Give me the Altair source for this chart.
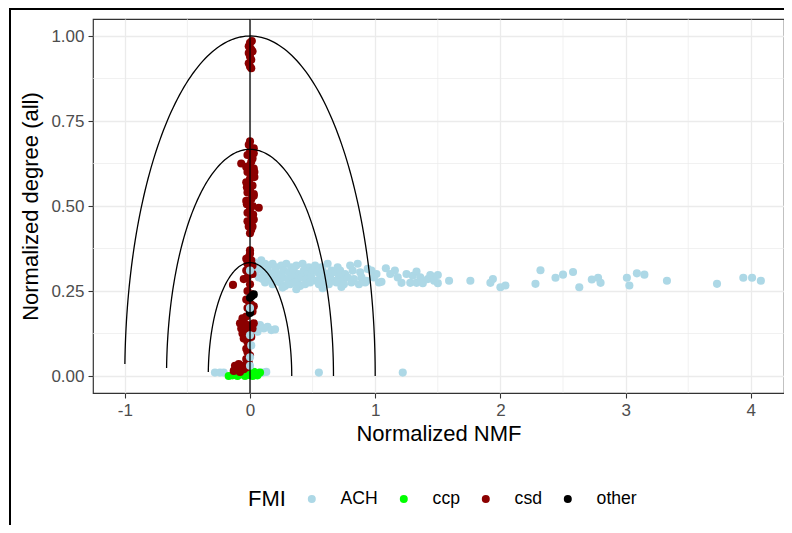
import numpy as np
import pandas as pd
import altair as alt

# ---------------- data ----------------
categories = ["ACH", "ccp", "csd", "other"]
colors = ["#ADD8E6", "#00FF00", "#8B0000", "#000000"]

ach_x = [0.03, 0.06, 0.09, 0.12, 0.15, 0.18, 0.21, 0.25, 0.29, 0.33, 0.37, 0.42, 0.47, 0.52, 0.57, 0.62, 0.70, 0.80, 0.86, 0.94,
         0.05, 0.08, 0.11, 0.14, 0.17, 0.20, 0.23, 0.27, 0.31, 0.35, 0.39, 0.43, 0.46, 0.50, 0.54, 0.58, 0.61, 0.65, 0.68, 0.72, 0.76, 0.82, 0.88, 0.97, 1.01,
         0.07, 0.10, 0.13, 0.16, 0.19, 0.22, 0.26, 0.30, 0.34, 0.38, 0.41, 0.45, 0.49, 0.53, 0.56, 0.60, 0.64, 0.67, 0.71, 0.74, 0.78, 0.83, 0.89, 0.93, 0.99,
         0.12, 0.18, 0.24, 0.28, 0.32, 0.36, 0.40, 0.44, 0.48, 0.55, 0.59, 0.63, 0.69, 0.75, 0.81, 0.87, 0.92, 1.03,
         0.37, 0.58, 0.73, 0.26,
         1.05, 1.085, 1.12, 1.157, 1.18, 1.21, 1.25, 1.28, 1.30, 1.33, 1.33, 1.36, 1.38, 1.42, 1.44, 1.50, 1.50, 1.47,
         1.59, 1.76, 1.92, 1.94, 2.00, 2.04, 2.28, 2.32, 2.44, 2.50, 2.58, 2.63, 2.73, 2.78, 2.80, 3.01, 3.03, 3.09, 3.15, 3.33, 3.73, 3.94, 4.01, 4.08,
         0.08, 0.11, 0.14, 0.17, 0.20, 0.06,
         -0.28, -0.24, -0.21, -0.03, 0.07, 0.10, 0.13, 0.55, 1.22]
ach_y = [0.335, 0.33, 0.34, 0.33, 0.325, 0.33, 0.32, 0.325, 0.33, 0.32, 0.325, 0.33, 0.32, 0.325, 0.32, 0.33, 0.32, 0.325, 0.33, 0.315,
         0.31, 0.315, 0.305, 0.31, 0.30, 0.31, 0.30, 0.31, 0.305, 0.31, 0.30, 0.31, 0.30, 0.31, 0.305, 0.31, 0.30, 0.31, 0.305, 0.31, 0.30, 0.31, 0.305, 0.31, 0.30,
         0.29, 0.285, 0.295, 0.285, 0.29, 0.28, 0.29, 0.285, 0.29, 0.28, 0.29, 0.285, 0.29, 0.28, 0.29, 0.285, 0.29, 0.28, 0.29, 0.28, 0.29, 0.285, 0.29, 0.28, 0.29,
         0.275, 0.27, 0.275, 0.265, 0.27, 0.275, 0.265, 0.27, 0.275, 0.27, 0.265, 0.27, 0.275, 0.27, 0.275, 0.27, 0.275, 0.275,
         0.255, 0.258, 0.262, 0.26,
         0.277, 0.317, 0.30, 0.31, 0.29, 0.274, 0.30, 0.274, 0.295, 0.307, 0.274, 0.29, 0.273, 0.285, 0.297, 0.297, 0.273, 0.28,
         0.28, 0.28, 0.274, 0.285, 0.261, 0.266, 0.271, 0.311, 0.289, 0.298, 0.306, 0.261, 0.284, 0.289, 0.274, 0.289, 0.266, 0.302, 0.298, 0.28, 0.271, 0.289, 0.289, 0.28,
         0.15, 0.14, 0.145, 0.135, 0.137, 0.13,
         0.01, 0.01, 0.01, 0.012, 0.01, 0.01, 0.012, 0.01, 0.01]

ccp_x = [-0.17, -0.14, -0.10, -0.07, -0.04, -0.01, 0.02, 0.05, 0.08, 0.03, -0.12, 0.00, 0.06]
ccp_y = [0.0, 0.002, 0.0, 0.005, 0.0, 0.003, 0.0, 0.008, 0.01, 0.012, 0.008, 0.01, 0.002]

csd_x = [0.0, -0.01, 0.01, 0.02, -0.01, 0.0, 0.01, -0.01, 0.0, 0.01, 0.0, 0.015,
         0.0, -0.01, 0.01, 0.0, -0.02, 0.02, 0.01, -0.07, 0.0, 0.03, -0.02, 0.01, 0.0, -0.03, 0.02, 0.0, -0.02, 0.03, 0.01, -0.01,
         0.02, 0.07, 0.0, -0.02, 0.01, 0.03, 0.0, -0.01, 0.01, 0.0,
         0.03, -0.03, 0.035, -0.025, 0.03, -0.03, 0.025, -0.02, 0.035, -0.025, 0.02, 0.03,
         0.0, 0.0, -0.01, 0.01, -0.02, 0.0, -0.03, 0.02, -0.02, -0.05, -0.136, 0.0, -0.02, 0.02, -0.01, 0.01, -0.02, 0.02,
         -0.03, 0.02, -0.03, 0.03,
         -0.03, -0.06, -0.05, -0.08, -0.02, 0.03, -0.07, -0.04, 0.02, -0.06, -0.03, 0.01, -0.05, -0.02, 0.0, -0.03, -0.02,
         0.0, -0.03, -0.01, -0.12, -0.09, -0.06, -0.10, -0.05, -0.13, -0.03, -0.08]
csd_y = [0.98, 0.97, 0.96, 0.955, 0.95, 0.94, 0.93, 0.92, 0.91, 0.905, 0.965, 0.985,
         0.69, 0.68, 0.67, 0.66, 0.65, 0.64, 0.63, 0.625, 0.62, 0.61, 0.60, 0.59, 0.58, 0.57, 0.56, 0.55, 0.54, 0.53, 0.52, 0.51,
         0.50, 0.495, 0.49, 0.48, 0.47, 0.46, 0.45, 0.44, 0.43, 0.42,
         0.655, 0.615, 0.585, 0.555, 0.535, 0.515, 0.475, 0.455, 0.60, 0.505, 0.44, 0.67,
         0.37, 0.36, 0.35, 0.34, 0.33, 0.32, 0.31, 0.30, 0.29, 0.285, 0.268, 0.27, 0.25, 0.24, 0.22, 0.21, 0.20, 0.19,
         0.345, 0.325, 0.225, 0.205,
         0.175, 0.17, 0.16, 0.155, 0.15, 0.155, 0.14, 0.135, 0.14, 0.125, 0.12, 0.115, 0.11, 0.10, 0.09, 0.08, 0.07,
         0.06, 0.05, 0.04, 0.03, 0.035, 0.03, 0.02, 0.02, 0.015, 0.025, 0.012]

other_x = [0.03, 0.0, 0.0, 0.015, 0.0]
other_y = [0.24, 0.23, 0.185, 0.235, 0.19]

# ACH points lying on the x = 0 column (drawn above the others)
achc_x = [0.0, 0.0, 0.01, 0.0, 0.0, 0.0]
achc_y = [0.12, 0.055, 0.09, 0.03, 0.20, 0.31]

radii = [1.0, 2 / 3, 1 / 3]
x_ticks = [-1, 0, 1, 2, 3, 4]
y_ticks = [0.0, 0.25, 0.5, 0.75, 1.0]
x_minor = [-0.5, 0.5, 1.5, 2.5, 3.5]
y_minor = [0.125, 0.375, 0.625, 0.875]

# ---------------- tables ----------------
rows = []
for name, xs, ys in [("ACH", ach_x, ach_y), ("ccp", ccp_x, ccp_y), ("csd", csd_x, csd_y),
                     ("other", other_x, other_y), ("ACH", achc_x, achc_y)]:
    for a, b in zip(xs, ys):
        rows.append({"nmf": a, "deg": b, "FMI": name})
pts = pd.DataFrame(rows)
pts["ord"] = range(len(pts))

theta = np.linspace(0, np.pi - 0.035, 150)
arc_rows = []
for k, r in enumerate(radii):
    for i, t in enumerate(theta):
        arc_rows.append({"nmf": r * np.cos(t), "deg": r * np.sin(t), "ring": k, "i": i})
arcs = pd.DataFrame(arc_rows)

xm = pd.DataFrame({"nmf": x_minor})
ym = pd.DataFrame({"deg": y_minor})
vl = pd.DataFrame({"nmf": [0]})
one = pd.DataFrame({"a": [0]})

X = alt.X("nmf:Q", title="Normalized NMF",
          scale=alt.Scale(domain=[-1.254, 4.265], nice=False, zero=False),
          axis=alt.Axis(values=x_ticks, labelExpr="replace(datum.label, '−', '-')",
                        titleFontSize=22, titleFontWeight="normal", titlePadding=5))
Y = alt.Y("deg:Q", title="Normalized degree (all)",
          scale=alt.Scale(domain=[-0.05, 1.05], nice=False, zero=False),
          axis=alt.Axis(values=y_ticks, format=".2f",
                        titleFontSize=22, titleFontWeight="normal", titlePadding=8))

minor_x = alt.Chart(xm).mark_rule(color="#EBEBEB", strokeWidth=0.7).encode(x=X)
minor_y = alt.Chart(ym).mark_rule(color="#EBEBEB", strokeWidth=0.7).encode(y=Y)

points = alt.Chart(pts).mark_circle(size=66, opacity=1).encode(
    x=X, y=Y,
    color=alt.Color("FMI:N", scale=alt.Scale(domain=categories, range=colors),
                    legend=alt.Legend(orient="none", legendX=155, legendY=471,
                                      direction="horizontal", titleOrient="left",
                                      symbolType="circle", symbolSize=64, symbolStrokeWidth=0,
                                      labelOffset=20, columnPadding=17, titlePadding=17)),
    order=alt.Order("ord:Q"),
)

arc_layer = alt.Chart(arcs).mark_line(color="black", strokeWidth=1.3).encode(
    x=X, y=Y, detail="ring:N", order="i:Q")

vline = alt.Chart(vl).mark_rule(color="black", strokeWidth=1.3).encode(x=X)

frame_left = alt.Chart(one).mark_rule(color="black", strokeWidth=2).encode(
    x=alt.value(-83), y=alt.value(-10), y2=alt.value(520))
frame_top = alt.Chart(one).mark_rule(color="black", strokeWidth=2).encode(
    x=alt.value(-84), x2=alt.value(700), y=alt.value(-10))

chart = alt.layer(minor_x, minor_y, points, arc_layer, vline, frame_left, frame_top).properties(
    width=691, height=374,
    autosize=alt.AutoSizeParams(type="none"),
    padding={"left": 85, "top": 11, "right": 0, "bottom": 132},
).configure(font="Liberation Sans").configure_view(
    stroke="#333333", strokeWidth=1.2
).configure_axis(
    labelFontSize=17, labelColor="#4D4D4D", titleFontSize=22, titleFontWeight="normal",
    titleColor="black", tickColor="#333333", tickSize=5, tickWidth=1.1, domain=False,
    gridColor="#EBEBEB", gridWidth=1.3, labelPadding=4,
).configure_legend(
    titleFontSize=22, titleFontWeight="normal", titleColor="black", labelFontSize=17.6,
    labelColor="black",
)

chart.save("out.html", embed_options={"renderer": "svg", "actions": False})
